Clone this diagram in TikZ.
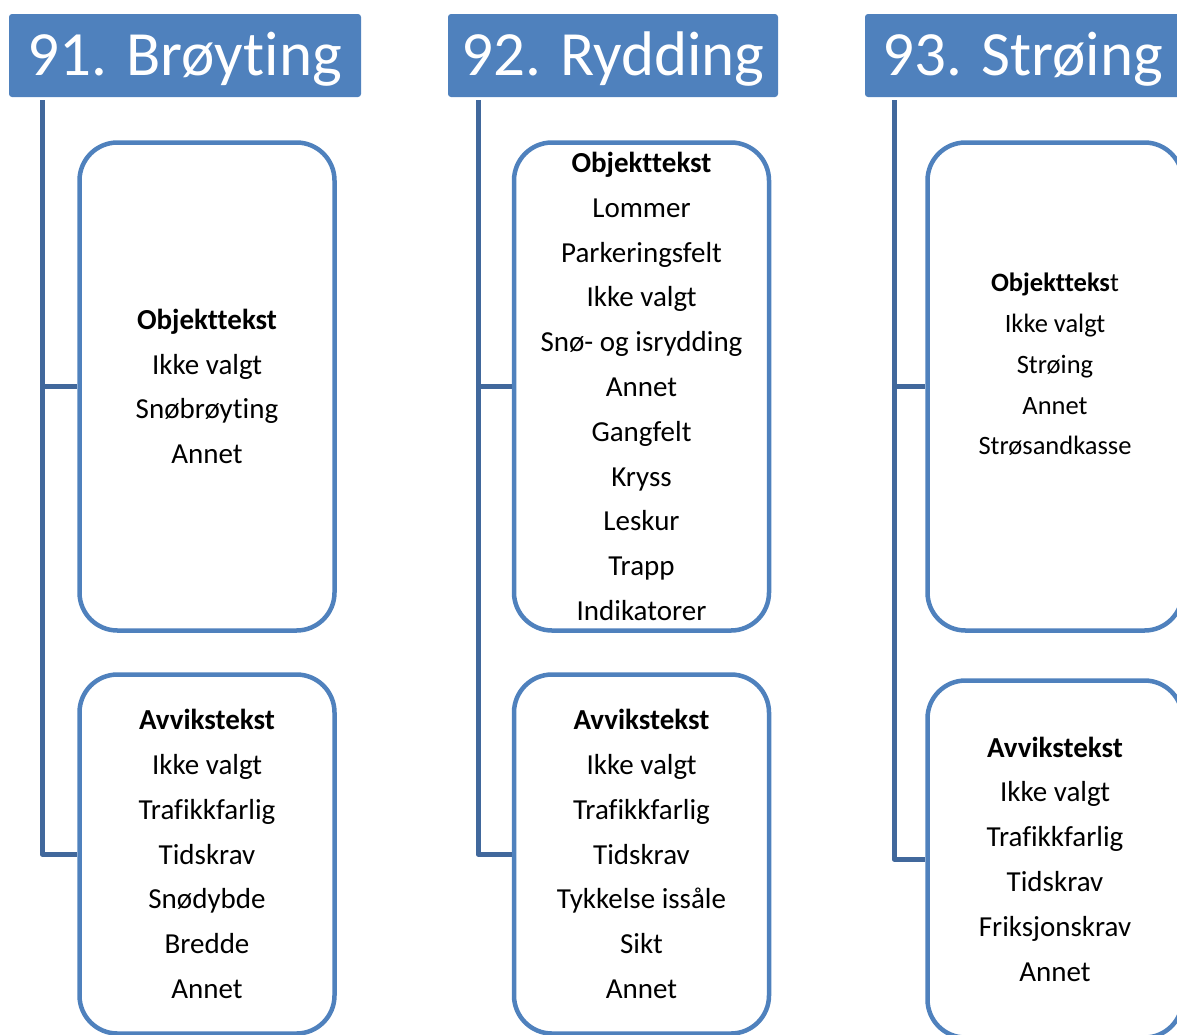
\documentclass[tikz,border=0pt]{standalone}
\usepackage{fontspec}
\setmainfont{Carlito}[Ligatures=NoCommon]
\usepackage{xcolor}
\usepackage{tikz}
\usetikzlibrary{positioning}
\definecolor{cHead}{HTML}{4F81BD}
\definecolor{cTrunk}{HTML}{41689C}
\tikzset{
  head/.style ={fill=cHead, rounded corners=3pt, inner sep=0pt, text=white,
                font=\fontsize{63}{70}\selectfont, text height=46pt, text depth=7pt,
                minimum height=83pt},
  card/.style ={draw=cHead, line width=4.5pt, rounded corners=38pt, fill=white,
                align=center, inner sep=0pt, minimum width=255pt,
                font=\fontsize{29}{44.8}\selectfont},
  small/.style={align=center, inner sep=0pt, font=\fontsize{26.5}{40.7}\selectfont},
  trunk/.style={draw=cTrunk, line width=5pt, line join=round},
}

\begin{document}
\begin{tikzpicture}[x=1pt, y=-1pt]
  \useasboundingbox (0,0) rectangle (1177,1034);
  \clip (0,0) rectangle (1177,1034);

  % column headers
  \node[head, minimum width=352pt] (hdrA) at (185,55.5) {91. Brøyting};
  \node[head, minimum width=330pt] (hdrB) at (613,55.5) {92. Rydding};
  \node[head, minimum width=316pt] (hdrC) at (1023,55.5) {93. Strøing};

  % 91
  \node[card, minimum height=488pt] (objA) at (207,386.5)
    {\textbf{Objekttekst}\\Ikke valgt\\Snøbrøyting\\Annet};
  \node[card, minimum height=359pt] (avA) at (207,854)
    {\textbf{Avvikstekst}\\Ikke valgt\\Trafikkfarlig\\Tidskrav\\Snødybde\\Bredde\\Annet};

  % 92
  \node[card, minimum height=488pt] (objB) at (641.5,386.5)
    {\textbf{Objekttekst}\\Lommer\\Parkeringsfelt\\Ikke valgt\\Snø- og isrydding\\Annet\\Gangfelt\\Kryss\\Leskur\\Trapp\\Indikatorer};
  \node[card, minimum height=359pt] (avB) at (641.5,854)
    {\textbf{Avvikstekst}\\Ikke valgt\\Trafikkfarlig\\Tidskrav\\Tykkelse issåle\\Sikt\\Annet};

  % 93 (top card text sits a little above centre)
  \node[card, minimum height=488pt] (objC) at (1055,386.5) {};
  \node[small] (objCtxt) at ([yshift=22pt]objC.center)
    {\textbf{Objektteks}t\\Ikke valgt\\Strøing\\Annet\\Strøsandkasse};
  \node[card, minimum height=357pt] (avC) at (1055,859)
    {\textbf{Avvikstekst}\\Ikke valgt\\Trafikkfarlig\\Tidskrav\\Friksjonskrav\\Annet};

  % trunks
  \coordinate (trA) at (42,100);
  \coordinate (trB) at (478,100);
  \coordinate (trC) at (894,100);
  \draw[trunk] (trA) |- (objA.west);
  \draw[trunk] (trA) |- (avA.west);
  \draw[trunk] (trB) |- (objB.west);
  \draw[trunk] (trB) |- (avB.west);
  \draw[trunk] (trC) |- (objC.west);
  \draw[trunk] (trC) |- (avC.west);
\end{tikzpicture}
\end{document}
